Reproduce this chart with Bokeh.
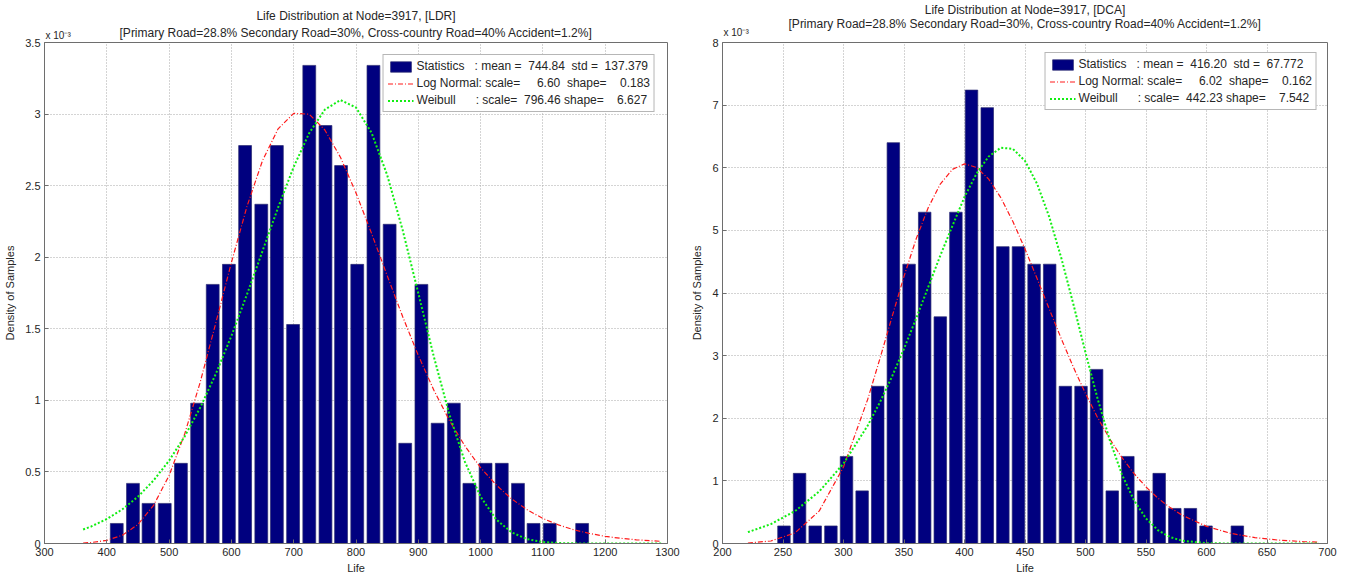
from bokeh.plotting import figure
from bokeh.models import Legend, LegendItem, FixedTicker, NumeralTickFormatter, Range1d, Label
from bokeh.layouts import row
from bokeh.embed import file_html
from bokeh.resources import INLINE

# ---------------- data: left panel (LDR) ----------------
ldr_title = ["Life Distribution at Node=3917, [LDR]",
             "[Primary Road=28.8% Secondary Road=30%, Cross-country Road=40% Accident=1.2%]"]
ldr_bin_centers = [416, 442, 467, 493, 519, 545, 570, 596, 622, 648, 673, 699, 725, 751, 776,
                   802, 828, 854, 879, 905, 931, 957, 982, 1008, 1034, 1060, 1085, 1111, 1137, 1163]
ldr_density_e3 = [0.14, 0.42, 0.28, 0.28, 0.56, 0.98, 1.81, 1.95, 2.78, 2.37, 2.78, 1.53, 3.34, 2.92, 2.64,
                  1.95, 3.34, 2.23, 0.70, 1.81, 0.84, 0.98, 0.42, 0.56, 0.56, 0.42, 0.14, 0.14, 0.0, 0.14]
ldr_curve_x = [362, 375, 400, 425, 450, 475, 500, 525, 550, 575, 600, 625, 650, 675, 700, 725, 750,
               775, 800, 825, 850, 875, 900, 925, 950, 975, 1000, 1025, 1050, 1075, 1100, 1125,
               1150, 1175, 1200, 1225, 1250, 1275, 1290]
ldr_lognormal_e3 = [0.003, 0.007, 0.022, 0.058, 0.133, 0.266, 0.475, 0.765, 1.128, 1.541, 1.963, 2.355,
                    2.676, 2.897, 3.005, 2.999, 2.889, 2.698, 2.449, 2.166, 1.872, 1.584, 1.314, 1.071,
                    0.859, 0.680, 0.530, 0.409, 0.311, 0.235, 0.175, 0.130, 0.095, 0.070, 0.050, 0.036,
                    0.026, 0.019, 0.015]
ldr_weibull_e3 = [0.098, 0.119, 0.171, 0.239, 0.327, 0.440, 0.579, 0.748, 0.950, 1.185, 1.450, 1.740,
                  2.044, 2.348, 2.631, 2.868, 3.031, 3.098, 3.046, 2.869, 2.575, 2.188, 1.749, 1.304,
                  0.900, 0.569, 0.327, 0.168, 0.077, 0.030, 0.010, 0.003, 0.001, 0.0, 0.0, 0.0,
                  0.0, 0.0, 0.0]
ldr_legend = ["Statistics\u00a0\u00a0\u00a0: mean =\u00a0\u00a0744.84\u00a0\u00a0std =\u00a0\u00a0137.379",
              "Log Normal: scale=\u00a0\u00a0\u00a0\u00a0\u00a06.60\u00a0\u00a0shape=\u00a0\u00a0\u00a0\u00a00.183",
              "Weibull\u00a0\u00a0\u00a0\u00a0\u00a0\u00a0: scale=\u00a0\u00a0796.46 shape=\u00a0\u00a0\u00a0\u00a06.627"]
ldr_x_ticks = [300, 400, 500, 600, 700, 800, 900, 1000, 1100, 1200, 1300]
ldr_y_ticks = [0, 0.5, 1, 1.5, 2, 2.5, 3, 3.5]

# ---------------- data: right panel (DCA) ----------------
dca_title = ["Life Distribution at Node=3917, [DCA]",
             "[Primary Road=28.8% Secondary Road=30%, Cross-country Road=40% Accident=1.2%]"]
dca_bin_centers = [250.8, 263.7, 276.6, 289.6, 302.5, 315.4, 328.3, 341.2, 354.2, 367.1, 380.0, 392.9,
                   405.8, 418.8, 431.7, 444.6, 457.5, 470.4, 483.4, 496.3, 509.2, 522.1, 535.0, 548.0,
                   560.9, 573.8, 586.7, 599.6, 612.6, 625.5]
dca_density_e3 = [0.28, 1.12, 0.28, 0.28, 1.39, 0.84, 2.51, 6.40, 4.46, 5.29, 3.62, 5.29, 7.24, 6.96,
                  4.74, 4.74, 4.46, 4.46, 2.51, 2.51, 2.78, 0.84, 1.39, 0.84, 1.12, 0.56, 0.56, 0.28,
                  0.0, 0.28]
dca_curve_x = [221, 240, 260, 280, 300, 320, 330, 340, 350, 360, 370, 380, 390, 400, 410, 420, 430,
               440, 450, 460, 470, 480, 490, 500, 510, 520, 530, 540, 550, 560, 570, 580, 600, 620,
               640, 660, 680, 693]
dca_lognormal_e3 = [0.007, 0.040, 0.170, 0.521, 1.222, 2.302, 2.945, 3.612, 4.265, 4.861, 5.362, 5.740,
                    5.974, 6.062, 6.005, 5.818, 5.522, 5.141, 4.703, 4.230, 3.746, 3.269, 2.815, 2.394,
                    2.011, 1.672, 1.374, 1.119, 0.903, 0.722, 0.573, 0.451, 0.274, 0.162, 0.094, 0.053,
                    0.030, 0.020]
dca_weibull_e3 = [0.181, 0.310, 0.519, 0.831, 1.277, 1.883, 2.251, 2.661, 3.110, 3.592, 4.093, 4.598,
                  5.071, 5.533, 5.908, 6.180, 6.319, 6.301, 6.110, 5.744, 5.217, 4.559, 3.819, 3.050,
                  2.312, 1.654, 1.108, 0.692, 0.400, 0.211, 0.102, 0.044, 0.006, 0.0, 0.0, 0.0,
                  0.0, 0.0]
dca_legend = ["Statistics\u00a0\u00a0\u00a0: mean =\u00a0\u00a0416.20\u00a0\u00a0std =\u00a0\u00a067.772",
              "Log Normal: scale=\u00a0\u00a0\u00a0\u00a0\u00a06.02\u00a0\u00a0shape=\u00a0\u00a0\u00a0\u00a00.162",
              "Weibull\u00a0\u00a0\u00a0\u00a0\u00a0\u00a0: scale=\u00a0\u00a0442.23 shape=\u00a0\u00a0\u00a0\u00a07.542"]
dca_x_ticks = [200, 250, 300, 350, 400, 450, 500, 550, 600, 650, 700]
dca_y_ticks = [0, 1, 2, 3, 4, 5, 6, 7, 8]

x_label = "Life"
y_label = "Density of Samples"
y_exponent = "x 10\u207b\u00b3"

FONT = "Liberation Sans"
TXT = "#262626"
NAVY = "#00007f"


def panel(title, centers, dens, cx, ln, wb, legend_labels, x_ticks, y_ticks,
          width, mb_left, mb_right, mb_top, offsets, legend_margin):
    p = figure(width=width, height=579, output_backend="svg", toolbar_location=None,
               x_range=Range1d(x_ticks[0], x_ticks[-1]), y_range=Range1d(y_ticks[0], y_ticks[-1]),
               min_border_left=mb_left, min_border_right=mb_right,
               min_border_top=mb_top, min_border_bottom=36)
    p.background_fill_color = "white"
    p.border_fill_color = "white"
    p.outline_line_color = "#6e6e6e"
    p.outline_line_width = 1

    bw = (centers[-1] - centers[0]) / (len(centers) - 1) * 0.8
    r_bar = p.vbar(x=centers, top=dens, width=bw, bottom=0, fill_color=NAVY,
                   line_color="#2a2a70", line_width=0.7)
    r_ln = p.line(cx, ln, line_color="#ff1a1a", line_width=1.2, line_dash="5 2 1 2")
    r_wb = p.line(cx, wb, line_color="#11ee11", line_width=2, line_dash="2 2")

    for ax in (p.xaxis[0], p.yaxis[0]):
        ax.axis_line_color = "#6e6e6e"
        ax.major_tick_line_color = "#6e6e6e"
        ax.major_tick_in = 4
        ax.major_tick_out = 0
        ax.minor_tick_line_color = None
        ax.major_label_text_font = FONT
        ax.major_label_text_font_size = "11px"
        ax.major_label_text_color = TXT
        ax.axis_label_text_font = FONT
        ax.axis_label_text_font_size = "11px"
        ax.axis_label_text_font_style = "normal"
        ax.axis_label_text_color = TXT
        ax.major_label_standoff = 4
    p.xaxis.ticker = FixedTicker(ticks=x_ticks)
    p.yaxis.ticker = FixedTicker(ticks=y_ticks)
    p.yaxis.formatter = NumeralTickFormatter(format="0.[0]")
    p.xaxis.axis_label = x_label
    p.yaxis.axis_label = y_label
    p.xaxis.axis_label_standoff = 3
    p.yaxis.axis_label_standoff = 6

    p.grid.grid_line_color = "#a8a8a8"
    p.grid.grid_line_dash = "1 2"
    p.grid.grid_line_width = 1
    p.xgrid.ticker = FixedTicker(ticks=x_ticks)
    p.ygrid.ticker = FixedTicker(ticks=y_ticks)

    # title lines and axis exponent, placed in the top side panel (not clipped to the frame)
    xmid = (x_ticks[0] + x_ticks[-1]) / 2
    ytop = y_ticks[-1]
    p.add_layout(Label(x=x_ticks[0], y=ytop, x_offset=1, y_offset=offsets[0], text=y_exponent,
                       text_align="left", text_baseline="middle", text_font=FONT,
                       text_font_size="10px", text_color=TXT), "above")
    p.add_layout(Label(x=xmid, y=ytop, y_offset=offsets[1], text=title[1],
                       text_align="center", text_baseline="middle", text_font=FONT,
                       text_font_size="12px", text_color=TXT), "above")
    p.add_layout(Label(x=xmid, y=ytop, y_offset=offsets[2], text=title[0],
                       text_align="center", text_baseline="middle", text_font=FONT,
                       text_font_size="12px", text_color=TXT), "above")

    legend = Legend(items=[LegendItem(label=legend_labels[0], renderers=[r_bar]),
                           LegendItem(label=legend_labels[1], renderers=[r_ln]),
                           LegendItem(label=legend_labels[2], renderers=[r_wb])],
                    location="top_right")
    legend.margin = legend_margin
    legend.padding = 4
    legend.spacing = 3
    legend.glyph_width = 26
    legend.glyph_height = 13
    legend.label_standoff = 3
    legend.label_height = 14
    legend.label_text_font = FONT
    legend.label_text_font_size = "12px"
    legend.label_text_color = TXT
    legend.border_line_color = "#6e6e6e"
    legend.border_line_width = 1
    legend.background_fill_color = "white"
    legend.background_fill_alpha = 1
    p.add_layout(legend)
    return p


p1 = panel(ldr_title, ldr_bin_centers, ldr_density_e3, ldr_curve_x, ldr_lognormal_e3, ldr_weibull_e3,
           ldr_legend, ldr_x_ticks, ldr_y_ticks, width=680, mb_left=44, mb_right=13, mb_top=42,
           offsets=(7, 10, 27), legend_margin=12)
p2 = panel(dca_title, dca_bin_centers, dca_density_e3, dca_curve_x, dca_lognormal_e3, dca_weibull_e3,
           dca_legend, dca_x_ticks, dca_y_ticks, width=670, mb_left=42, mb_right=23, mb_top=40,
           offsets=(10, 19, 33), legend_margin=10)

layout = row(p1, p2)
open("out.html", "w").write(file_html(layout, INLINE))
